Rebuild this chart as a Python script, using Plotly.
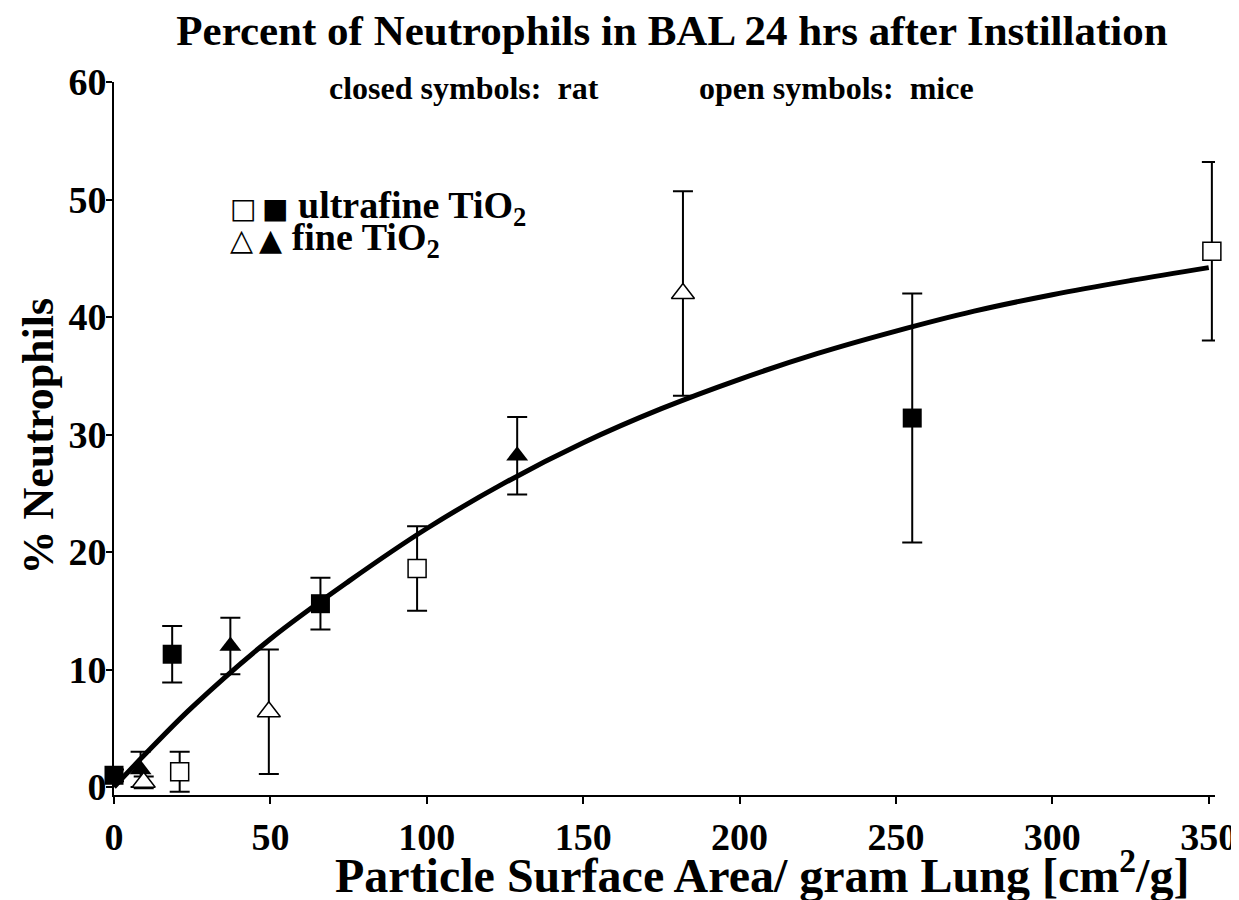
import plotly.graph_objects as go

# ---- data ----
rat_ultrafine_x = [0.0, 18.6, 66.0, 255.2]
rat_ultrafine_y = [1.0, 11.3, 15.6, 31.4]
rat_ultrafine_err = [0.5, 2.4, 2.2, 10.6]

rat_fine_x = [8.5, 37.2, 128.9]
rat_fine_y = [1.5, 12.0, 28.2]
rat_fine_err = [1.5, 2.4, 3.3]

mice_ultrafine_x = [21.0, 96.9, 351.0]
mice_ultrafine_y = [1.3, 18.6, 45.6]
mice_ultrafine_err = [1.7, 3.6, 7.6]

mice_fine_x = [9.5, 49.5, 181.9]
mice_fine_y = [0.4, 6.4, 42.0]
mice_fine_err = [0.5, 5.3, 8.7]

curve_x = [0, 10, 25, 50, 75, 100, 125, 150, 175, 200, 225, 250, 275, 300, 325, 350]
curve_y = [0.0, 2.8, 6.8, 12.6, 17.5, 22.0, 25.9, 29.3, 32.2, 34.7, 36.9, 38.8, 40.5, 41.9, 43.1, 44.2]

x_ticks = [0, 50, 100, 150, 200, 250, 300, 350]
y_ticks = [0, 10, 20, 30, 40, 50, 60]

FONT = "Liberation Serif"

# page body has an 8px margin; figure is sized to fill the remaining window
W, H = 1231, 892
L, T = 105.5, 74
R, B = 24.1, 105

fig = go.Figure()

fig.add_trace(go.Scatter(x=curve_x, y=curve_y, mode="lines",
                         line=dict(color="black", width=5, shape="spline"),
                         hoverinfo="skip", showlegend=False))

def err(vals):
    return dict(type="data", array=vals, visible=True, color="black", thickness=2, width=10)

fig.add_trace(go.Scatter(x=rat_ultrafine_x, y=rat_ultrafine_y, mode="markers",
                         marker=dict(symbol="square", size=19, color="black"),
                         error_y=err(rat_ultrafine_err), cliponaxis=False, showlegend=False))
fig.add_trace(go.Scatter(x=rat_fine_x, y=rat_fine_y, mode="markers",
                         marker=dict(symbol="triangle-up", size=19, color="black"),
                         error_y=err(rat_fine_err), cliponaxis=False, showlegend=False))
fig.add_trace(go.Scatter(x=mice_ultrafine_x, y=mice_ultrafine_y, mode="markers",
                         marker=dict(symbol="square", size=18, color="white",
                                     line=dict(color="black", width=1.5)),
                         error_y=err(mice_ultrafine_err), cliponaxis=False, showlegend=False))
fig.add_trace(go.Scatter(x=mice_fine_x, y=mice_fine_y, mode="markers",
                         marker=dict(symbol="triangle-up", size=20, color="white",
                                     line=dict(color="black", width=1.5)),
                         error_y=err(mice_fine_err), cliponaxis=False, showlegend=False))

fig.update_layout(
    width=W, height=H,
    margin=dict(l=L, r=R, t=T, b=B, autoexpand=False),
    paper_bgcolor="white", plot_bgcolor="white",
    font=dict(family=FONT, color="black"),
    title=dict(text="<b>Percent of Neutrophils in BAL 24 hrs after Instillation</b>",
               x=664 / W, xanchor="center", y=1 - 22 / H, yanchor="middle",
               font=dict(family=FONT, size=43, color="black")),
    xaxis=dict(range=[0, 352], tickvals=x_ticks, ticktext=[f"<b>{v}</b>" for v in x_ticks],
               automargin=False,
               showgrid=False, zeroline=False, showline=True, linecolor="black", linewidth=2,
               ticks="outside", ticklen=7, tickwidth=2, tickcolor="black",
               tickfont=dict(family=FONT, size=38, color="black")),
    yaxis=dict(range=[-0.68, 60], tickvals=y_ticks, ticktext=[f"<b>{v}</b>" for v in y_ticks],
               automargin=False, ticklabelstandoff=-8,
               showgrid=False, zeroline=False, showline=True, linecolor="black", linewidth=2,
               ticks="outside", ticklen=6, tickwidth=2, tickcolor="black",
               tickfont=dict(family=FONT, size=38, color="black")),
)

PW = W - L - R
PH = H - T - B

def px(xw):  # window x pixel -> paper x
    return (xw - 8 - L) / PW

def py(yw):  # window y pixel -> paper y
    return (H - B - (yw - 8)) / PH

annos = [
    dict(text="<b>closed symbols:  rat</b>", x=px(464), y=py(88), size=32),
    dict(text="<b>open symbols:  mice</b>", x=px(836), y=py(88), size=32),
    dict(text="<b>% Neutrophils</b>", x=px(37), y=py(436), size=44, angle=-90),
    dict(text="<b>Particle Surface Area/ gram Lung [cm<sup>2</sup>/g]</b>", x=px(762), y=py(872), size=48),
]
for a in annos:
    fig.add_annotation(text=a["text"], x=a["x"], y=a["y"], xref="paper", yref="paper",
                       showarrow=False, xanchor="center", yanchor="middle",
                       textangle=a.get("angle", 0),
                       font=dict(family=FONT, size=a["size"], color="black"))

SQ = '<span style="font-family:DejaVu Sans;font-size:28px">□\u2009■</span>'
TR = '<span style="font-family:DejaVu Sans;font-size:30px">△\u2009▲</span>'
legend_rows = [
    (SQ + " <b>ultrafine TiO<sub>2</sub></b>", py(208)),
    (TR + " <b>fine TiO<sub>2</sub></b>", py(240)),
]
for txt, yy in legend_rows:
    fig.add_annotation(text=txt, x=px(228), y=yy, xref="paper", yref="paper",
                       showarrow=False, xanchor="left", yanchor="middle",
                       font=dict(family=FONT, size=38, color="black"))

fig.write_html("out.html")
